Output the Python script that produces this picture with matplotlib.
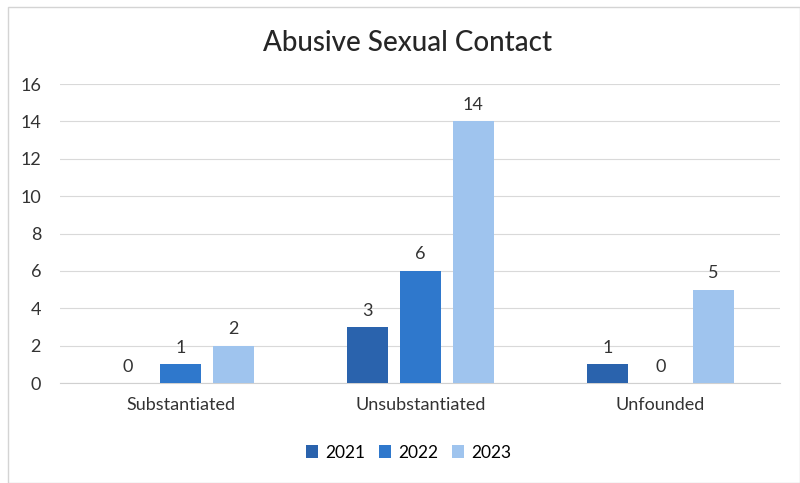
import numpy as np
import matplotlib.pyplot as plt
from matplotlib.patches import Rectangle

categories = ['Substantiated', 'Unsubstantiated', 'Unfounded']
years = ['2021', '2022', '2023']
values_2021 = [0, 3, 1]
values_2022 = [1, 6, 0]
values_2023 = [2, 14, 5]
colors = ['#2a63ad', '#2f78cc', '#9fc4ee']

plt.rcParams['font.family'] = ['Lato', 'DejaVu Sans']

fig = plt.figure(figsize=(8, 4.83), dpi=100)
ax = fig.add_axes([0.0756, 0.207, 0.9, 0.619])

# faint chart frame
fig.patches.append(Rectangle((0.01, 0.0), 0.99, 0.985, transform=fig.transFigure,
                             fill=False, edgecolor='#d4d4d4', linewidth=1))

x = np.arange(len(categories))
width = 0.172
offset = 0.22
for i, (vals, yr) in enumerate(zip([values_2021, values_2022, values_2023], years)):
    pos = x + (i - 1) * offset
    bars = ax.bar(pos, vals, width, color=colors[i], label=yr, zorder=3)
    for b, v in zip(bars, vals):
        ax.text(b.get_x() + b.get_width() / 2, v + 0.45, str(v), ha='center', va='bottom',
                fontsize=13, color='#333333')

ax.set_xlim(-0.5, 2.5)
ax.set_ylim(0, 16)
ax.set_yticks(range(0, 17, 2))
ax.set_xticks(x)
ax.set_xticklabels(categories)
ax.tick_params(axis='both', length=0, labelsize=13, colors='#333333')
ax.tick_params(axis='x', pad=10)
ax.tick_params(axis='y', pad=14)
ax.grid(axis='y', color='#d9d9d9', linewidth=0.8, zorder=0)
for s in ['top', 'right', 'left']:
    ax.spines[s].set_visible(False)
ax.spines['bottom'].set_color('#d0d0d0')

fig.text(0.51, 0.91, 'Abusive Sexual Contact', ha='center', va='center', fontsize=20,
         color='#262626', fontweight='medium')
fig.legend(loc='center', bbox_to_anchor=(0.511, 0.063), ncol=3, frameon=False, fontsize=12.5,
           handlelength=0.7, handleheight=0.7, handletextpad=0.4, columnspacing=0.8)

fig.savefig('out.png', dpi=100)
